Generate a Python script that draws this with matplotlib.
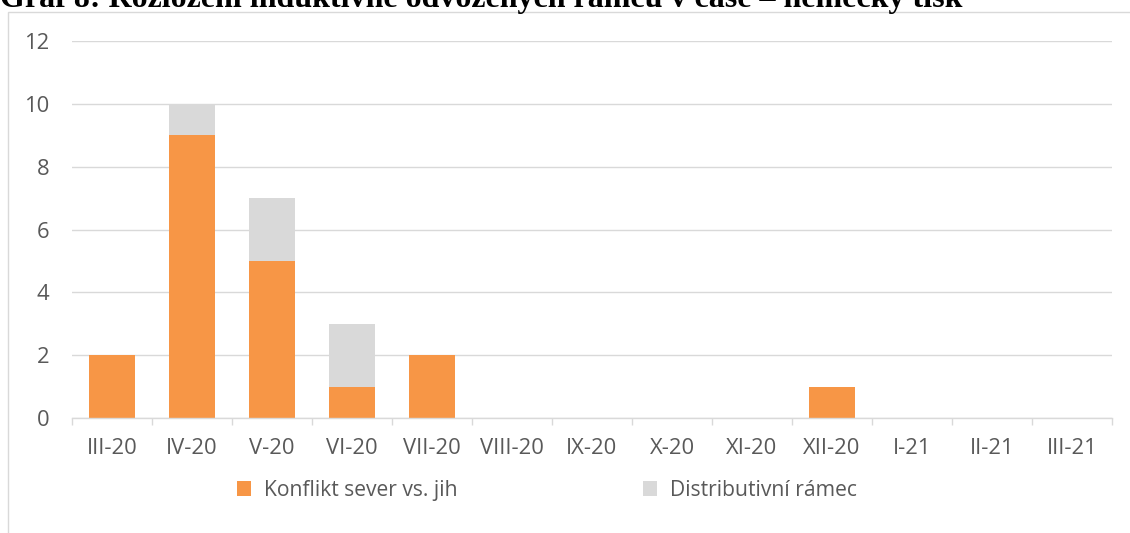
import matplotlib
matplotlib.use("Agg")
import matplotlib.pyplot as plt
from matplotlib.patches import Patch, Rectangle
import numpy as np

categories = ["III-20", "IV-20", "V-20", "VI-20", "VII-20", "VIII-20", "IX-20",
              "X-20", "XI-20", "XII-20", "I-21", "II-21", "III-21"]
konflikt = [2, 9, 5, 1, 2, 0, 0, 0, 0, 1, 0, 0, 0]
distributivni = [0, 1, 2, 2, 0, 0, 0, 0, 0, 0, 0, 0, 0]
yticks = [0, 2, 4, 6, 8, 10, 12]
series_names = ["Konflikt sever vs. jih", "Distributivní rámec"]
title = "Graf 8: Rozložení induktivně odvozených rámců v čase – německý tisk"

ORANGE = "#F79646"
GRAY = "#D9D9D9"
TEXT = "#595959"
W, H = 1130, 533
FS = 15.8

plt.rcParams['font.family'] = ['Open Sans', 'DejaVu Sans']

fig = plt.figure(figsize=(W / 100, H / 100), dpi=100)
ax = fig.add_axes([72 / W, 1 - 418 / H, (1112 - 72) / W, (418 - 41) / H])

x = np.arange(len(categories))
ax.bar(x, konflikt, width=0.575, color=ORANGE, zorder=3)
ax.bar(x, distributivni, width=0.575, bottom=konflikt, color=GRAY, zorder=3)

ax.set_xlim(-0.5, len(categories) - 0.5)
ax.set_ylim(0, 12)
ax.set_yticks(yticks)
ax.set_yticklabels([str(v) for v in yticks])
ax.grid(axis='y', color=GRAY, linewidth=1.0, zorder=0)
ax.set_axisbelow(True)

for s in ['top', 'right', 'left']:
    ax.spines[s].set_visible(False)
ax.spines['bottom'].set_color(GRAY)
ax.spines['bottom'].set_linewidth(1.0)
ax.spines['bottom'].set_zorder(4)

ax.set_xticks(x)
ax.set_xticklabels(categories)
ax.set_xticks(np.arange(-0.5, len(categories), 1.0), minor=True)
ax.tick_params(axis='x', which='major', length=0, pad=14.5, labelsize=FS, labelcolor=TEXT)
ax.tick_params(axis='x', which='minor', length=5, width=1.0, color=GRAY)
ax.tick_params(axis='y', length=0, pad=16.5, labelsize=FS, labelcolor=TEXT)

# outer chart frame
fig.patches.append(Rectangle((8 / W, -0.05), 1.1, (533 - 12) / H + 0.05,
                             transform=fig.transFigure, fill=False,
                             edgecolor=GRAY, linewidth=1.0))

# title, clipped at the top like in the reference
fig.text(0.0, 1 - 7 / H, title, family='Liberation Serif', weight='bold',
         fontsize=23, color='black', va='baseline', ha='left')

# legend
handles = [Patch(facecolor=ORANGE), Patch(facecolor=GRAY)]
anchors = [237 / W, 643 / W]
for h, name, ax_x in zip(handles, series_names, anchors):
    fig.legend(handles=[h], labels=[name], loc='center left',
               bbox_to_anchor=(ax_x, 1 - 490.5 / H), frameon=False,
               borderpad=0, borderaxespad=0, handlelength=0.68, handleheight=0.68,
               handletextpad=0.6, fontsize=15.2, labelcolor=TEXT)

fig.savefig("out.png", dpi=100)
